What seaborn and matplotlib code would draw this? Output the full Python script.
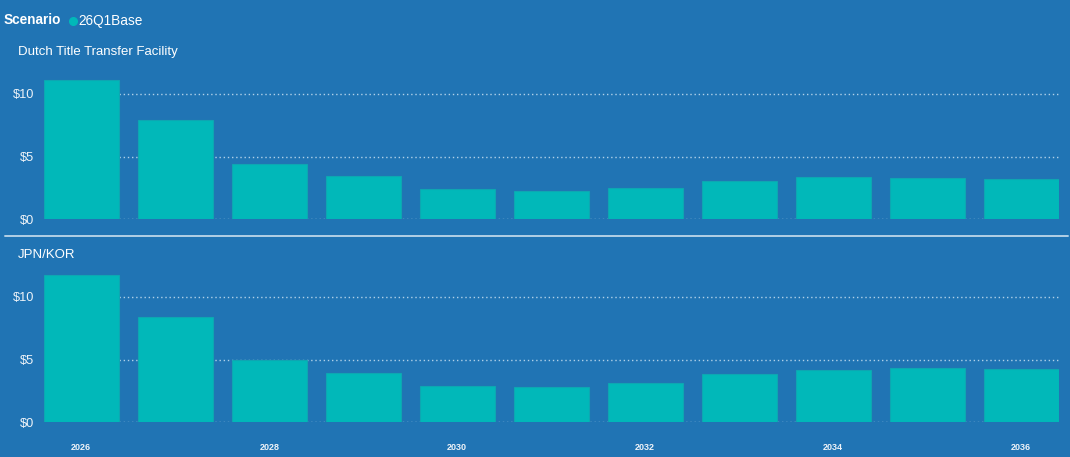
import pandas as pd
import matplotlib.pyplot as plt
import seaborn as sns
from matplotlib.lines import Line2D

# -----------------------------
# Datos
# -----------------------------
years = [2026, 2027, 2028, 2029, 2030, 2031, 2032, 2033, 2034, 2035, 2036]
ttf_values = [11.14, 7.90, 4.41, 3.43, 2.44, 2.26, 2.52, 3.06, 3.35, 3.32, 3.22]
jkm_values = [11.76, 8.43, 4.98, 3.95, 2.91, 2.80, 3.12, 3.81, 4.19, 4.35, 4.24]
panel_titles = ["Dutch Title Transfer Facility", "JPN/KOR"]
scenario = "26Q1Base"
year_labels = [str(y) if y % 2 == 0 else "" for y in years]

# -----------------------------
# Estilo
# -----------------------------
bg = "#2074b4"
bar_color = "#01b8b9"
text_color = "#eef3f8"

sns.set_style("white")
plt.rcParams["font.family"] = ["Liberation Sans", "DejaVu Sans"]

W, H = 1070, 457
fig = plt.figure(figsize=(W / 100, H / 100), dpi=100)
fig.patch.set_facecolor(bg)

left = 43.7 / W
width = (1058.7 - 43.7) / W

# (pixel del cero, pixel superior, ylim superior, valores)
panels = [
    (219.3, 75.0, 11.5, ttf_values),
    (422.0, 272.0, 12.0, jkm_values),
]

for i, (y0, ytop, ymax, vals) in enumerate(panels):
    ax = fig.add_axes([left, 1 - y0 / H, width, (y0 - ytop) / H])
    ax.set_facecolor(bg)
    df = pd.DataFrame({"year": [str(y) for y in years], "value": vals})
    sns.barplot(data=df, x="year", y="value", color=bar_color, width=0.8,
                edgecolor="#0ea6b2", linewidth=0.8, saturation=1, ax=ax,
                zorder=2)
    ax.set_xlim(-0.4, len(years) - 0.6)
    ax.set_ylim(0, ymax)
    ax.set_yticks([0, 5, 10])
    ax.set_yticklabels(["$0", "$5", "$10"])
    ax.yaxis.grid(True, linestyle=(0, (1, 2)), color="#b0d0e8", linewidth=1.0, zorder=0)
    ax.set_axisbelow(True)
    ax.tick_params(axis="y", length=0, pad=7, labelsize=9.2, labelcolor=text_color)
    ax.set_xlabel("")
    ax.set_ylabel("")
    for s in ax.spines.values():
        s.set_visible(False)
    if i == 1:
        ax.set_xticks(range(len(years)))
        ax.set_xticklabels(year_labels)
        ax.tick_params(axis="x", length=0, pad=15, labelsize=6.5, labelcolor=text_color)
        for lbl in ax.get_xticklabels():
            lbl.set_fontweight("bold")
    else:
        ax.set_xticks([])

# Títulos de paneles
fig.text(18 / W, 1 - 52 / H, panel_titles[0], color="white", fontsize=9.5, va="center", ha="left")
fig.text(18 / W, 1 - 255 / H, panel_titles[1], color="white", fontsize=9.5, va="center", ha="left")

# Leyenda
fig.text(4 / W, 1 - 20.5 / H, "Scenario", color="white", fontsize=9.8, fontweight="bold",
         va="center", ha="left")
fig.add_artist(Line2D([72.5 / W], [1 - 21 / H], marker="o", markersize=5.5,
                      color=bar_color, linestyle="none"))
fig.text(78.5 / W, 1 - 20.5 / H, scenario, color="white", fontsize=9.8, va="center", ha="left")

# Línea separadora
fig.add_artist(Line2D([5 / W, 1068 / W], [1 - 236 / H, 1 - 236 / H],
                      color="#b3d0e6", linewidth=1.4))

plt.savefig("out.png", dpi=100, facecolor=bg)
plt.close()
